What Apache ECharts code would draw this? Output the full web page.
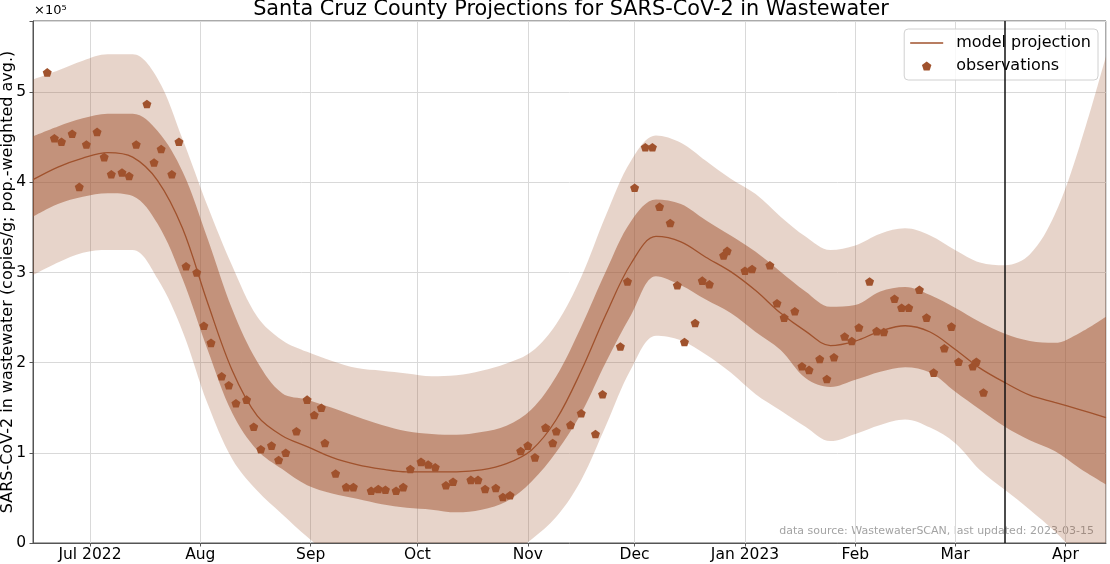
<!DOCTYPE html>
<html><head><meta charset="utf-8">
<script src="https://cdn.jsdelivr.net/npm/echarts@6/dist/echarts.min.js"></script>
<style>html,body{margin:0;padding:0;background:#fff}#c{width:1110px;height:564px}</style>
</head><body><div id="c"></div>
<script>
// values in units of 1e5 copies/g
const bandDates = ['2022-06-15','2022-06-22','2022-06-29','2022-07-06','2022-07-13','2022-07-20','2022-07-27','2022-08-03','2022-08-10','2022-08-17','2022-08-24','2022-08-31','2022-09-07','2022-09-14','2022-09-21','2022-09-28','2022-10-05','2022-10-12','2022-10-19','2022-10-26','2022-11-02','2022-11-09','2022-11-16','2022-11-23','2022-11-30','2022-12-07','2022-12-14','2022-12-21','2022-12-28','2023-01-04','2023-01-11','2023-01-18','2023-01-25','2023-02-01','2023-02-08','2023-02-15','2023-02-22','2023-03-01','2023-03-08','2023-03-15','2023-03-22','2023-03-29','2023-04-05','2023-04-12 10:00:00'];
const modelMid = [4.03,4.17,4.27,4.33,4.28,4.02,3.49,2.67,1.91,1.41,1.19,1.07,0.95,0.87,0.82,0.79,0.79,0.79,0.81,0.88,1.03,1.37,1.91,2.54,3.10,3.40,3.34,3.17,3.01,2.80,2.55,2.35,2.19,2.24,2.35,2.41,2.34,2.15,1.94,1.78,1.64,1.56,1.48,1.39];
const innerLo = [3.62,3.76,3.84,3.88,3.85,3.54,2.93,2.15,1.44,1.03,0.82,0.64,0.55,0.49,0.43,0.39,0.37,0.34,0.37,0.46,0.68,1.01,1.44,2.01,2.53,2.96,2.86,2.70,2.55,2.34,2.14,1.83,1.73,1.81,1.90,1.95,1.89,1.68,1.48,1.29,1.14,1.02,0.83,0.65];
const innerHi = [4.51,4.62,4.71,4.76,4.76,4.57,4.12,3.38,2.59,2.01,1.66,1.59,1.50,1.40,1.31,1.24,1.21,1.20,1.23,1.30,1.48,1.85,2.40,3.02,3.57,3.81,3.76,3.58,3.41,3.23,3.01,2.79,2.62,2.64,2.79,2.84,2.75,2.61,2.45,2.32,2.24,2.22,2.33,2.51];
const outerLo = [2.97,3.11,3.22,3.25,3.25,2.93,2.35,1.55,0.93,0.58,0.32,0.07,-0.15,-0.30,-0.40,-0.45,-0.45,-0.40,-0.30,-0.15,0.04,0.29,0.70,1.31,1.93,2.30,2.25,2.09,1.89,1.65,1.47,1.29,1.13,1.21,1.31,1.37,1.28,1.11,0.81,0.59,0.37,0.13,-0.15,-0.38];
const outerHi = [5.14,5.24,5.35,5.42,5.42,5.15,4.48,3.74,3.07,2.51,2.25,2.12,2.02,1.94,1.91,1.88,1.85,1.86,1.91,1.99,2.12,2.43,2.95,3.64,4.24,4.52,4.44,4.24,4.04,3.87,3.62,3.40,3.25,3.30,3.43,3.49,3.41,3.25,3.11,3.08,3.20,3.64,4.40,5.40];
const obsDates = ['2022-06-19','2022-06-21','2022-06-23','2022-06-26','2022-06-28','2022-06-30','2022-07-03','2022-07-05','2022-07-07','2022-07-10','2022-07-12','2022-07-14','2022-07-17','2022-07-19','2022-07-21','2022-07-24','2022-07-26','2022-07-28','2022-07-31','2022-08-02','2022-08-04','2022-08-07','2022-08-09','2022-08-11','2022-08-14','2022-08-16','2022-08-18','2022-08-21','2022-08-23','2022-08-25','2022-08-28','2022-08-31','2022-09-02','2022-09-04','2022-09-05','2022-09-08','2022-09-11','2022-09-13','2022-09-18','2022-09-20','2022-09-22','2022-09-25','2022-09-27','2022-09-29','2022-10-02','2022-10-04','2022-10-06','2022-10-09','2022-10-11','2022-10-16','2022-10-18','2022-10-20','2022-10-23','2022-10-25','2022-10-27','2022-10-30','2022-11-01','2022-11-03','2022-11-06','2022-11-08','2022-11-09','2022-11-13','2022-11-16','2022-11-20','2022-11-22','2022-11-27','2022-11-29','2022-12-01','2022-12-04','2022-12-06','2022-12-08','2022-12-11','2022-12-13','2022-12-15','2022-12-18','2022-12-20','2022-12-22','2022-12-26','2022-12-27','2023-01-01','2023-01-03','2023-01-08','2023-01-10','2023-01-12','2023-01-15','2023-01-17','2023-01-19','2023-01-22','2023-01-24','2023-01-26','2023-01-29','2023-01-31','2023-02-02','2023-02-05','2023-02-07','2023-02-09','2023-02-12','2023-02-14','2023-02-16','2023-02-19','2023-02-21','2023-02-23','2023-02-26','2023-02-28','2023-03-02','2023-03-06','2023-03-07','2023-03-09'];
const obsValues = [5.22,4.49,4.45,4.54,3.95,4.42,4.56,4.28,4.09,4.11,4.07,4.42,4.87,4.22,4.37,4.09,4.45,3.07,3.00,2.41,2.22,1.85,1.75,1.55,1.59,1.29,1.04,1.08,0.92,1.00,1.24,1.59,1.42,1.50,1.11,0.77,0.62,0.62,0.58,0.60,0.59,0.58,0.62,0.82,0.90,0.87,0.84,0.64,0.68,0.70,0.70,0.60,0.61,0.51,0.53,1.02,1.08,0.95,1.28,1.11,1.24,1.31,1.44,1.21,1.65,2.18,2.90,3.94,4.39,4.39,3.73,3.55,2.86,2.23,2.44,2.91,2.87,3.19,3.24,3.02,3.04,3.08,2.66,2.50,2.57,1.96,1.92,2.04,1.82,2.06,2.29,2.24,2.39,2.90,2.35,2.34,2.71,2.61,2.61,2.81,2.50,1.89,2.16,2.40,2.01,1.96,2.01,1.67];
const xTickDates = ['2022-07-01','2022-08-01','2022-09-01','2022-10-01','2022-11-01','2022-12-01','2023-01-01','2023-02-01','2023-03-01','2023-04-01'];
const xTickLabels = ['Jul 2022','Aug','Sep','Oct','Nov','Dec','Jan 2023','Feb','Mar','Apr'];
const yTicks = [0,1,2,3,4,5];
const updateDate = '2023-03-15';

const SIENNA = '#A0522D';
const PENTA = 'path://M0,-1L0.951,-0.309L0.588,0.809L-0.588,0.809L-0.951,-0.309Z';
const LINE_ICON = 'path://M0,0L33,0L33,1.4L0,1.4Z';
const FONT = 'DejaVu Sans';

function pairs(xs, ys) { return xs.map((x, i) => [x, ys[i]]); }
const innerSpan = innerHi.map((v, i) => +(v - innerLo[i]).toFixed(3));
const outerSpan = outerHi.map((v, i) => +(v - outerLo[i]).toFixed(3));
function parseLocal(s) { const p = s.split('-').map(Number); return new Date(p[0], p[1] - 1, p[2]).getTime(); }
const tickMap = {};
xTickDates.forEach((d, i) => { tickMap[parseLocal(d)] = xTickLabels[i]; });

const chart = echarts.init(document.getElementById('c'), null, { renderer: 'canvas' });
const bandCommon = { type: 'line', symbol: 'none', smooth: 0.35, silent: true, stackStrategy: 'all',
  lineStyle: { width: 0, opacity: 0 }, emphasis: { disabled: true } };

chart.setOption({
  animation: false,
  textStyle: { fontFamily: FONT },
  title: {
    text: 'Santa Cruz County Projections for SARS-CoV-2 in Wastewater',
    left: 571, top: -1, textAlign: 'center', padding: 0,
    textStyle: { fontFamily: FONT, fontSize: 20.8, fontWeight: 'normal', color: '#000' }
  },
  grid: { left: 33, right: 4, top: 21, bottom: 21, show: true, borderColor: '#555', borderWidth: 1,
    containLabel: false, outerBoundsMode: 'none' },
  legend: {
    data: [{ name: 'model projection', icon: LINE_ICON }, { name: 'observations', icon: PENTA }],
    orient: 'vertical', right: 12, top: 29, z: 4,
    itemWidth: 33, itemHeight: 9, itemGap: 7, padding: [6, 7, 6, 6],
    backgroundColor: 'rgba(255,255,255,0.8)', borderColor: '#d0d0d0', borderWidth: 1, borderRadius: 4,
    textStyle: { fontFamily: FONT, fontSize: 16, color: '#000', padding: [0, 0, 0, 8] },
    selectedMode: false
  },
  xAxis: {
    type: 'time',
    min: '2022-06-15', max: '2023-04-12 10:00:00',
    minInterval: 28 * 864e5, maxInterval: 31 * 864e5,
    axisLine: { show: true, lineStyle: { color: '#555', width: 1 } },
    axisTick: { show: true, length: 3.5, lineStyle: { color: '#555' } },
    axisLabel: { fontFamily: FONT, fontSize: 15.5, color: '#000', margin: 4, hideOverlap: false,
      formatter: v => tickMap[v] || '' },
    splitLine: { show: true, lineStyle: { color: '#d9d9d9', width: 1 } }
  },
  yAxis: {
    type: 'value', min: 0, max: 5.79, interval: 1,
    name: 'SARS-CoV-2 in wastewater (copies/g; pop.-weighted avg.)',
    nameLocation: 'middle', nameRotate: 90, nameGap: 17, nameMoveOverlap: false,
    nameTextStyle: { fontFamily: FONT, fontSize: 16, color: '#000' },
    axisLine: { show: true, lineStyle: { color: '#555', width: 1 } },
    axisTick: { show: true, length: 3.5, lineStyle: { color: '#555' } },
    axisLabel: { fontFamily: FONT, fontSize: 15.5, color: '#000', margin: 7,
      formatter: v => (yTicks.indexOf(v) >= 0 ? String(v) : '') },
    splitLine: { show: true, lineStyle: { color: '#d9d9d9', width: 1 } }
  },
  graphic: [
    { type: 'text', left: 34, top: 4, style: { text: '×10⁵', font: '13px "DejaVu Sans"', fill: '#000' } },
    { type: 'text', right: 16, top: 526, style: { text: 'data source: WastewaterSCAN, last updated: ' + updateDate,
      font: '11px "DejaVu Sans"', fill: '#a3a3a3' } }
  ],
  series: [
    Object.assign({}, bandCommon, { name: 'outerBase', stack: 'outer', data: pairs(bandDates, outerLo) }),
    Object.assign({}, bandCommon, { name: 'outerBand', stack: 'outer', data: pairs(bandDates, outerSpan),
      areaStyle: { color: 'rgba(160,82,45,0.25)', opacity: 1 } }),
    Object.assign({}, bandCommon, { name: 'innerBase', stack: 'inner', data: pairs(bandDates, innerLo) }),
    Object.assign({}, bandCommon, { name: 'innerBand', stack: 'inner', data: pairs(bandDates, innerSpan),
      areaStyle: { color: 'rgba(160,82,45,0.5)', opacity: 1 } }),
    { type: 'line', name: 'model projection', data: pairs(bandDates, modelMid), symbol: 'none', smooth: 0.35,
      lineStyle: { color: SIENNA, width: 1.3 }, itemStyle: { color: SIENNA }, z: 3, silent: true },
    { type: 'scatter', name: 'observations', data: pairs(obsDates, obsValues), symbol: PENTA, symbolSize: 9,
      symbolKeepAspect: true, itemStyle: { color: SIENNA, opacity: 1 }, z: 4, silent: true },
    { type: 'line', name: 'lastUpdated', data: [], z: 10, silent: true,
      markLine: { silent: true, symbol: ['none', 'none'], z: 10, label: { show: false },
        lineStyle: { color: '#111', width: 1.5, type: 'solid' }, emphasis: { disabled: true },
        data: [{ xAxis: updateDate }] } }
  ]
});
</script></body></html>
